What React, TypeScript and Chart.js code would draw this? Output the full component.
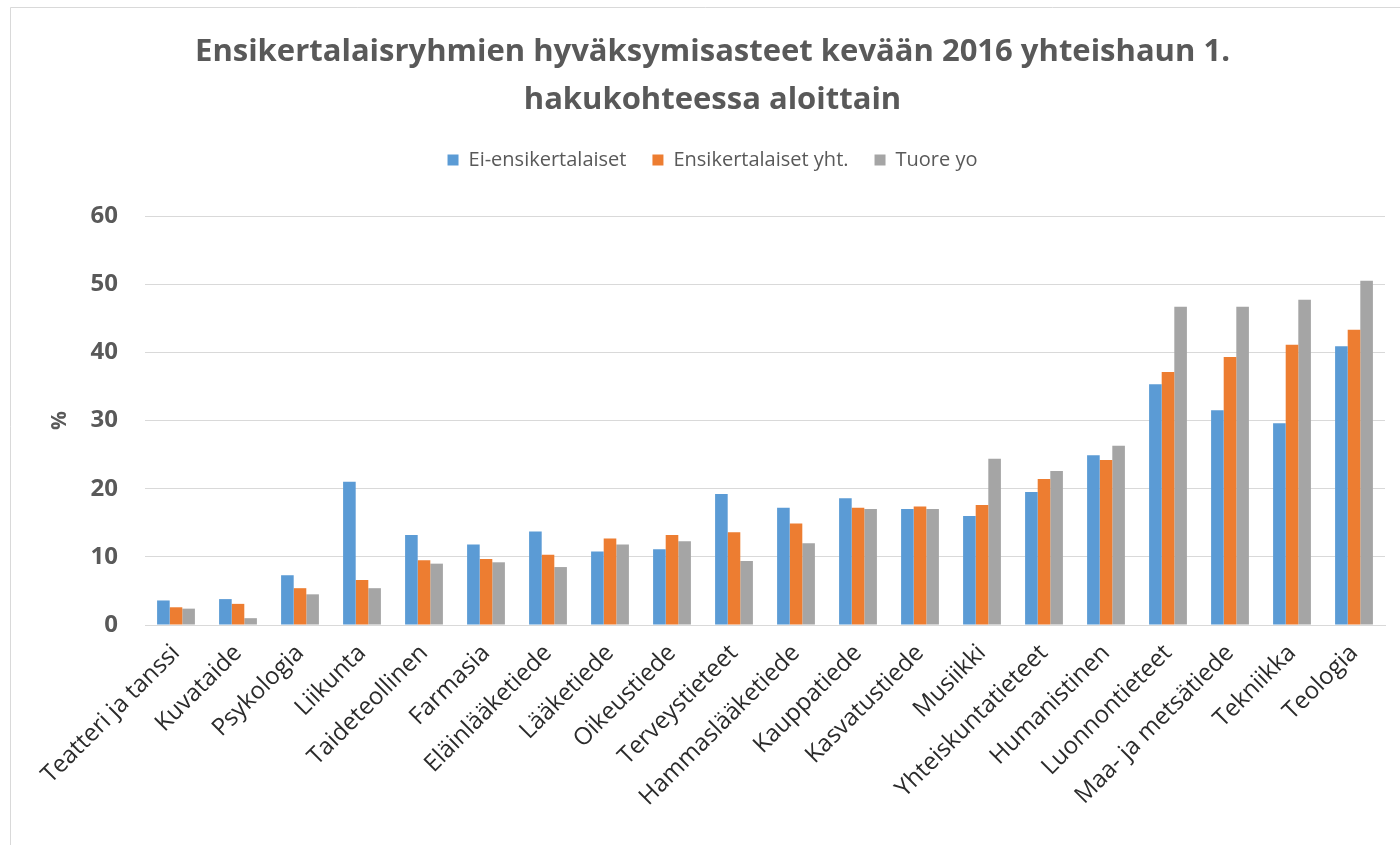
import React, { useEffect, useRef } from "react";
import { Chart, registerables } from "chart.js";

Chart.register(...registerables);

const categories = [
  "Teatteri ja tanssi",
  "Kuvataide",
  "Psykologia",
  "Liikunta",
  "Taideteollinen",
  "Farmasia",
  "Eläinlääketiede",
  "Lääketiede",
  "Oikeustiede",
  "Terveystieteet",
  "Hammaslääketiede",
  "Kauppatiede",
  "Kasvatustiede",
  "Musiikki",
  "Yhteiskuntatieteet",
  "Humanistinen",
  "Luonnontieteet",
  "Maa- ja metsätiede",
  "Tekniikka",
  "Teologia",
];

const eiEnsikertalaiset = [3.6, 3.8, 7.3, 21.0, 13.2, 11.8, 13.7, 10.8, 11.1, 19.2, 17.2, 18.6, 17.0, 16.0, 19.5, 24.9, 35.3, 31.5, 29.6, 40.9];
const ensikertalaisetYht = [2.6, 3.1, 5.4, 6.6, 9.5, 9.7, 10.3, 12.7, 13.2, 13.6, 14.9, 17.2, 17.4, 17.6, 21.4, 24.2, 37.1, 39.3, 41.1, 43.3];
const tuoreYo = [2.4, 1.0, 4.5, 5.4, 9.0, 9.2, 8.5, 11.8, 12.3, 9.4, 12.0, 17.0, 17.0, 24.4, 22.6, 26.3, 46.7, 46.7, 47.7, 50.5];

const seriesLabels = ["Ei-ensikertalaiset", "Ensikertalaiset yht.", "Tuore yo"];
const seriesColors = ["#5b9bd5", "#ed7d31", "#a5a5a5"];

const yMin = 0;
const yMax = 60;
const yStep = 10;

const titleLines = [
  "Ensikertalaisryhmien hyväksymisasteet kevään 2016 yhteishaun 1.",
  "hakukohteessa aloittain",
];
const yAxisTitle = "%";

const FONT = "'Open Sans', 'Noto Sans', sans-serif";

const framePlugin = {
  id: "frame",
  beforeDraw(chart: any) {
    const ctx = chart.ctx;
    ctx.save();
    ctx.fillStyle = "#ffffff";
    ctx.fillRect(0, 0, chart.width, chart.height);
    ctx.strokeStyle = "#d9d9d9";
    ctx.lineWidth = 1;
    ctx.beginPath();
    ctx.moveTo(10.5, chart.height);
    ctx.lineTo(10.5, 7.5);
    ctx.lineTo(chart.width, 7.5);
    ctx.stroke();
    ctx.restore();
  },
};

export default function App() {
  const canvasRef = useRef<HTMLCanvasElement | null>(null);

  useEffect(() => {
    const canvas = canvasRef.current;
    if (!canvas) return;
    const seriesData = [eiEnsikertalaiset, ensikertalaisetYht, tuoreYo];
    const chart = new Chart(canvas, {
      type: "bar",
      data: {
        labels: categories,
        datasets: seriesLabels.map((label, i) => ({
          label,
          data: seriesData[i],
          backgroundColor: seriesColors[i],
          borderWidth: 0,
          categoryPercentage: 0.61,
          barPercentage: 1.0,
        })),
      },
      options: {
        responsive: false,
        animation: false,
        devicePixelRatio: 1,
        layout: { padding: { left: 40, right: 15, top: 0, bottom: 0 } },
        plugins: {
          title: {
            display: true,
            text: titleLines,
            color: "#595959",
            font: { family: FONT, size: 31, weight: "bold", lineHeight: "48px" },
            padding: { top: 28, bottom: 0 },
          },
          legend: {
            display: true,
            position: "top",
            labels: {
              color: "#595959",
              font: { family: FONT, size: 20 },
              boxWidth: 11,
              boxHeight: 11,
              padding: 26,
            },
          },
          subtitle: {
            display: true,
            text: "",
            weight: 500,
            font: { family: FONT, size: 10, lineHeight: "10px" },
            padding: { top: 0, bottom: 26 },
          },
          tooltip: { enabled: false },
        },
        scales: {
          x: {
            grid: { display: false },
            border: { display: true, color: "#d9d9d9" },
            ticks: {
              autoSkip: false,
              minRotation: 45,
              maxRotation: 45,
              color: "#2b2b2b",
              font: { family: FONT, size: 24 },
              padding: 6,
            },
            afterFit(scale: any) {
              scale.height = 220;
            },
          },
          y: {
            min: yMin,
            max: yMax,
            ticks: {
              stepSize: yStep,
              color: "#595959",
              font: { family: FONT, size: 24, weight: "bold" },
              padding: 27,
            },
            grid: { color: "#d9d9d9", lineWidth: 1, drawTicks: false },
            border: { display: false },
            title: {
              display: true,
              text: yAxisTitle,
              color: "#595959",
              font: { family: FONT, size: 21, weight: "bold" },
              padding: { top: 7, bottom: 0 },
            },
            afterFit(scale: any) {
              scale.width = 105;
            },
          },
        },
      },
      plugins: [framePlugin],
    });
    return () => chart.destroy();
  }, []);

  return (
    <div style={{ position: "fixed", left: 0, top: 0, width: 1400, height: 845, background: "#fff" }}>
      <canvas ref={canvasRef} width={1400} height={845} style={{ display: "block" }} />
    </div>
  );
}
